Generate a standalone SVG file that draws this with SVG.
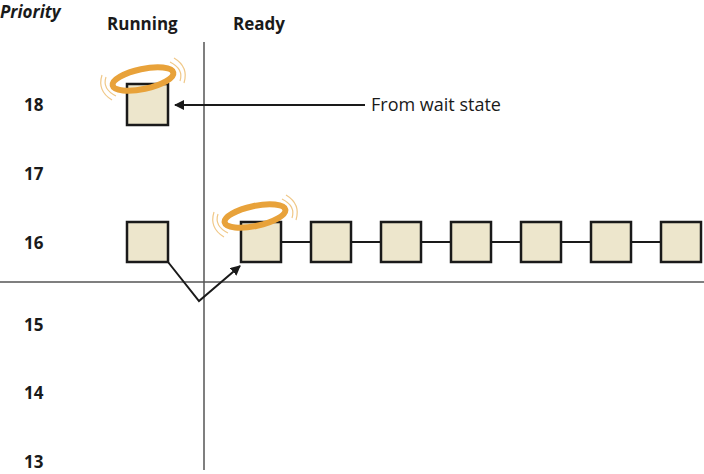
<svg xmlns="http://www.w3.org/2000/svg" width="704" height="474" viewBox="0 0 704 474">
<style>
.t{font-family:"Open Sans","Noto Sans",sans-serif;font-size:17px;fill:#1a1a1a}
.b{font-weight:bold}
.sq{fill:#ede6cc;stroke:#1a1a1a;stroke-width:2.5}
.ax{stroke:#555;stroke-width:1.5;fill:none}
.ln{stroke:#1a1a1a;stroke-width:2;fill:none}
.halo{fill:none;stroke:#e8a23a;stroke-width:6}
.wave{fill:none;stroke:#f0c888;stroke-width:1.2}
</style>
<defs>
<marker id="ah" markerWidth="10" markerHeight="10" refX="9" refY="5" orient="auto" markerUnits="userSpaceOnUse"><path d="M0,0 L10,5 L0,10 z" fill="#1a1a1a"/></marker>
<g id="haloDef">
<ellipse cx="0" cy="0" rx="31" ry="10" class="halo" transform="rotate(-12)"/>
<path class="wave" d="M-37,-2 Q-41,10 -27,17 M-41,-4 Q-46,12 -31,21"/>
<path class="wave" d="M37,2 Q41,-10 27,-17 M41,4 Q46,-12 31,-21"/>
</g>
</defs>
<g id="labels">
<text class="t b" x="0" y="18" font-style="italic">Priority</text>
<text class="t b" x="107" y="30">Running</text>
<text class="t b" x="233" y="30">Ready</text>
<text class="t b" x="24" y="111">18</text>
<text class="t b" x="24" y="180">17</text>
<text class="t b" x="24" y="249">16</text>
<text class="t b" x="24" y="331">15</text>
<text class="t b" x="24" y="399">14</text>
<text class="t b" x="24" y="468">13</text>
<text class="t" x="371" y="111" style="font-size:18px">From wait state</text>
</g>
<g id="axes">
<line class="ax" x1="204" y1="42" x2="204" y2="470"/>
<line class="ax" x1="0" y1="282" x2="704" y2="282"/>
</g>
<g id="connectors">
<line class="ln" x1="281" y1="242" x2="661" y2="242"/>
<line class="ln" x1="365" y1="105" x2="175" y2="105" marker-end="url(#ah)"/>
<polyline class="ln" points="168,262 199,301 240,266" marker-end="url(#ah)"/>
</g>
<g id="n-run18"><rect class="sq" x="127" y="84" width="41" height="41"/><use href="#haloDef" x="143" y="79"/></g>
<g id="n-run16"><rect class="sq" x="127" y="222" width="41" height="40"/></g>
<g id="n-r1"><rect class="sq" x="241" y="222" width="40" height="40"/><use href="#haloDef" x="255" y="216"/></g>
<g id="n-r2"><rect class="sq" x="311" y="222" width="40" height="40"/></g>
<g id="n-r3"><rect class="sq" x="381" y="222" width="40" height="40"/></g>
<g id="n-r4"><rect class="sq" x="451" y="222" width="40" height="40"/></g>
<g id="n-r5"><rect class="sq" x="521" y="222" width="40" height="40"/></g>
<g id="n-r6"><rect class="sq" x="591" y="222" width="40" height="40"/></g>
<g id="n-r7"><rect class="sq" x="661" y="222" width="40" height="40"/></g>
</svg>
